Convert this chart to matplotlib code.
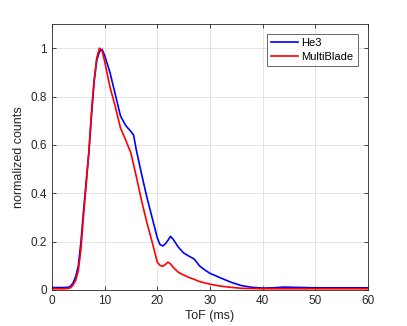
import numpy as np
import matplotlib
matplotlib.use("Agg")
import matplotlib.pyplot as plt

he3_t = [0, 1, 2, 3, 3.5, 4, 4.5, 5, 5.5, 6, 6.5, 7, 7.5, 8, 8.5, 9, 9.5, 10, 11, 12, 13, 14, 15, 15.5, 16, 17, 18, 19, 20, 20.5, 21, 21.5, 22, 22.5, 23, 24, 25, 26, 27, 28, 29, 30, 32, 34, 36, 38, 40, 42, 44, 46, 50, 55, 60]
he3_y = [0.01, 0.01, 0.01, 0.011, 0.015, 0.03, 0.055, 0.10, 0.20, 0.33, 0.45, 0.57, 0.72, 0.86, 0.95, 0.985, 0.995, 0.97, 0.9, 0.81, 0.72, 0.68, 0.655, 0.64, 0.58, 0.48, 0.385, 0.30, 0.215, 0.188, 0.182, 0.19, 0.205, 0.222, 0.21, 0.177, 0.153, 0.14, 0.128, 0.10, 0.083, 0.069, 0.05, 0.032, 0.018, 0.011, 0.008, 0.009, 0.012, 0.011, 0.009, 0.009, 0.009]

mb_t = [0, 1, 2, 3, 3.5, 4, 4.5, 5, 5.5, 6, 6.5, 7, 7.5, 8, 8.5, 9, 9.5, 10, 11, 12, 13, 14, 15, 16, 17, 18, 19, 20, 20.5, 21, 21.5, 22, 22.5, 23, 24, 25, 26, 27, 28, 30, 32, 34, 36, 40, 45, 50, 60]
mb_y = [0.005, 0.005, 0.005, 0.006, 0.009, 0.02, 0.04, 0.08, 0.17, 0.31, 0.44, 0.57, 0.74, 0.87, 0.96, 1.0, 0.99, 0.945, 0.84, 0.76, 0.67, 0.62, 0.565, 0.47, 0.37, 0.28, 0.20, 0.115, 0.102, 0.098, 0.105, 0.115, 0.108, 0.094, 0.073, 0.062, 0.052, 0.044, 0.035, 0.024, 0.016, 0.011, 0.007, 0.005, 0.005, 0.005, 0.005]

xticks = [0, 10, 20, 30, 40, 50, 60]
yticks = [0, 0.2, 0.4, 0.6, 0.8, 1.0]
yticklabels = ["0", "0.2", "0.4", "0.6", "0.8", "1"]

plt.rcParams['font.family'] = ['Liberation Sans', 'DejaVu Sans']
fig = plt.figure(figsize=(4.07, 3.26), dpi=100)
ax = fig.add_axes([52/407, 1 - 290/326, (368-52)/407, (290-24)/326])

ax.plot(he3_t, he3_y, color=(0, 0, 1), lw=1.2, label="He3")
ax.plot(mb_t, mb_y, color=(1, 0, 0), lw=1.2, label="MultiBlade")

ax.set_xlim(0, 60)
ax.set_ylim(0, 1.1)
ax.set_xticks(xticks)
ax.set_yticks(yticks)
ax.set_yticklabels(yticklabels)
ax.grid(True, color=(0.87, 0.87, 0.87), lw=0.6)
ax.set_axisbelow(True)
ax.tick_params(direction='in', top=True, right=True, length=3, width=0.6,
               labelsize=8.5, colors=(0.15, 0.15, 0.15))
for s in ax.spines.values():
    s.set_color((0.15, 0.15, 0.15))
    s.set_linewidth(0.6)
ax.set_xlabel("ToF (ms)", fontsize=9, color=(0.15, 0.15, 0.15), labelpad=2)
ax.set_ylabel("normalized counts", fontsize=9, color=(0.15, 0.15, 0.15), labelpad=4)

leg = ax.legend(loc='upper right', fontsize=8, frameon=True, fancybox=False,
                handlelength=2.4, handletextpad=0.3, borderpad=0.4, labelspacing=0.35,
                bbox_to_anchor=(0.985, 0.985))
leg.get_frame().set_edgecolor((0.15, 0.15, 0.15))
leg.get_frame().set_linewidth(0.6)

fig.savefig("out.png", dpi=100)
